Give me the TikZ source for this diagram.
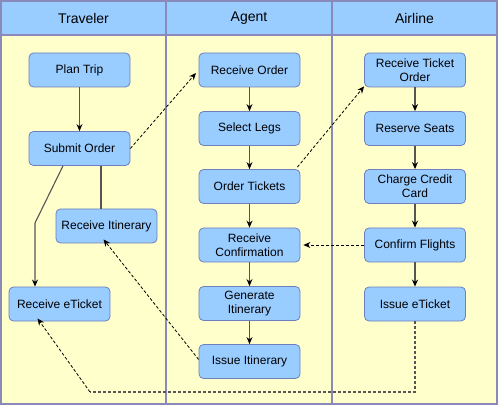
\documentclass[tikz,border=0pt]{standalone}
\usepackage{fontspec}
\setmainfont{Liberation Sans}
\usetikzlibrary{arrows.meta}
\definecolor{boxfill}{HTML}{99CCFF}
\definecolor{boxline}{HTML}{6F7FBF}
\definecolor{lanefill}{HTML}{FFFFCC}
\definecolor{laneline}{HTML}{8A8ABA}
\definecolor{conn}{HTML}{555555}
\tikzset{
  act/.style={draw=boxline, fill=boxfill, rounded corners=4.5pt, minimum width=101pt, minimum height=34pt, inner sep=1pt, align=center, font=\fontsize{12}{14}\selectfont, line width=0.8pt},
  hdr/.style={font=\fontsize{14}{16}\selectfont},
  flow/.style={draw=conn, line width=1.1pt, -{Stealth[length=7pt,width=6pt,color=black]}},
  plain/.style={draw=conn, line width=1.1pt},
  msg/.style={draw=black, line width=0.8pt, dash pattern=on 3pt off 2pt, -{Stealth[length=7pt,width=6pt]}},
  msgp/.style={draw=conn, line width=1.1pt, dash pattern=on 3pt off 2pt},
}
\begin{document}
\begin{tikzpicture}[x=1pt,y=-1pt]
\useasboundingbox (0,0) rectangle (498,406);
% lanes
\fill[lanefill] (1,35) rectangle (497,404);
\fill[boxfill] (1,1) rectangle (497,35);
\draw[laneline, line width=1.2pt] (1,35) -- (497,35);
\draw[laneline, line width=1.2pt] (166,1) -- (166,404);
\draw[laneline, line width=1.2pt] (332,1) -- (332,404);
\draw[laneline, line width=1.2pt] (1,1) rectangle (497,404);
\node[hdr] (h1) at (83.5,18) {Traveler};
\node[hdr] (h2) at (249,18) {Agent};
\node[hdr] (h3) at (414.5,18) {Airline};
% traveler
\node[act] (plan) at (79.5,70) {Plan Trip};
\node[act] (submit) at (79.5,148.5) {Submit Order};
\node[act] (ritin) at (106.5,226) {Receive Itinerary};
\node[act] (reticket) at (59.5,304) {Receive eTicket};
% agent
\node[act] (rorder) at (249.5,70) {Receive Order};
\node[act] (legs) at (249.5,128.5) {Select Legs};
\node[act] (otick) at (249.5,186.5) {Order Tickets};
\node[act] (rconf) at (249.5,245) {Receive\\Confirmation};
\node[act] (gitin) at (249.5,303.5) {Generate\\Itinerary};
\node[act] (iitin) at (249.5,361.5) {Issue Itinerary};
% airline
\node[act] (rto) at (415,70) {Receive Ticket\\Order};
\node[act] (seats) at (415,128.5) {Reserve Seats};
\node[act] (ccc) at (415,186.5) {Charge Credit\\Card};
\node[act] (cf) at (415,245) {Confirm Flights};
\node[act] (iet) at (415,304) {Issue eTicket};
\coordinate (k1) at (35,223);
\coordinate (k2) at (415,392);
\coordinate (k3) at (90,392);
% flows
\draw[flow] (plan) -- (submit);
\draw[flow] (rorder) -- (legs);
\draw[flow] (legs) -- (otick);
\draw[flow] (otick) -- (rconf);
\draw[flow] (rconf) -- (gitin);
\draw[flow] (gitin) -- (iitin);
\draw[flow] (rto) -- (seats);
\draw[flow] (seats) -- (ccc);
\draw[flow] (ccc) -- (cf);
\draw[flow] (cf) -- (iet);
\draw[flow] (submit.south -| 63,0) -- (k1) -- (k1 |- reticket.north);
\draw[plain] (submit.south -| 101,0) -- (ritin.north -| 101,0);
% messages
\draw[msg, shorten >=4pt] (submit.east) -- (rorder.west);
\draw[msg] ([xshift=-3pt,yshift=2pt]otick.north east) -- ([yshift=1pt]rto.south west);
\draw[msg, shorten >=3pt] (cf.west) -- (rconf.east);
\draw[msg] ([yshift=2pt]iitin.west) -- ([xshift=-3pt,yshift=4pt]ritin.south);
\draw[msgp] (iet.south) -- (k2) -- (k3);
\draw[msg] (k3) -- ([xshift=-22pt,yshift=3pt]reticket.south);
\end{tikzpicture}
\end{document}
